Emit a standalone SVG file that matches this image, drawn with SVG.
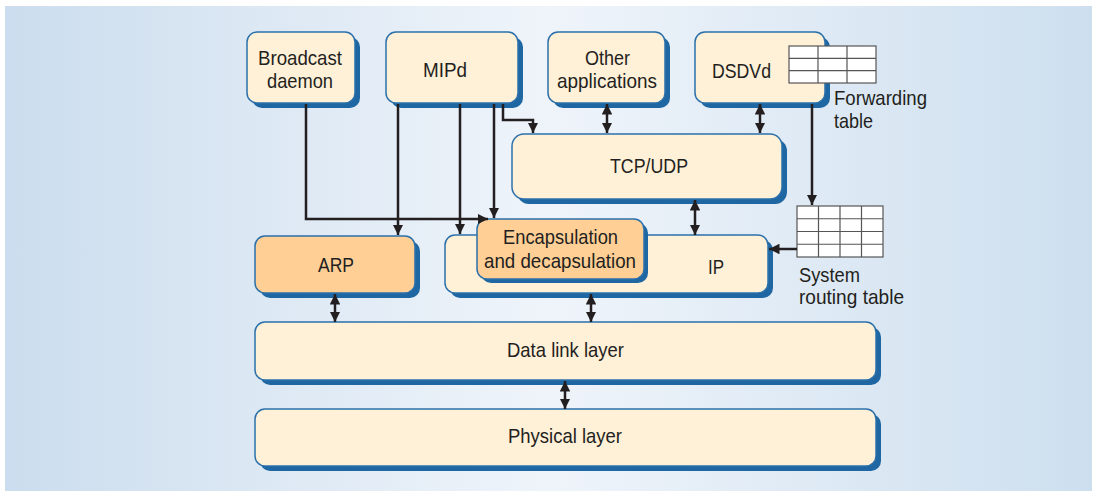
<svg xmlns="http://www.w3.org/2000/svg" width="1097" height="496" viewBox="0 0 1097 496">
<defs>
<linearGradient id="bg" x1="0" y1="0" x2="1" y2="0">
<stop offset="0" stop-color="#cbddee"/>
<stop offset="0.5" stop-color="#eff4fa"/>
<stop offset="1" stop-color="#cddfef"/>
</linearGradient>
<marker id="ah" viewBox="0 0 10 10" refX="10" refY="5" markerWidth="4.2" markerHeight="4.2" orient="auto-start-reverse" markerUnits="strokeWidth">
<path d="M0,0 L10,5 L0,10 z" fill="#231f20"/>
</marker>
<style>
.sh{fill:#1f67a2}
.bx{fill:#fff0d8;stroke:#2b70ab;stroke-width:1.5}
.or{fill:#ffcf96;stroke:#2b70ab;stroke-width:1.5}
.t{font-family:"Liberation Sans",Arial,sans-serif;font-size:21px;fill:#231f20}
.ln{fill:none;stroke:#231f20;stroke-width:2.5}
.ar{marker-end:url(#ah)}
.da{marker-start:url(#ah);marker-end:url(#ah)}
.g{fill:#fff;stroke:#555;stroke-width:1.2}
.gl{stroke:#555;stroke-width:1.2}
</style>
</defs>
<rect x="5" y="6" width="1087" height="485" fill="url(#bg)"/>

<g id="broadcast">
<rect class="sh" x="252" y="37" width="108" height="71" rx="10"/>
<rect class="bx" x="247" y="32" width="108" height="71" rx="10"/>
<text class="t" x="258" y="65" textLength="84" lengthAdjust="spacingAndGlyphs">Broadcast</text>
<text class="t" x="267" y="88" textLength="66" lengthAdjust="spacingAndGlyphs">daemon</text>
</g>
<g id="mipd">
<rect class="sh" x="391" y="37" width="132" height="71" rx="10"/>
<rect class="bx" x="386" y="32" width="132" height="71" rx="10"/>
<text class="t" x="423" y="77" textLength="44" lengthAdjust="spacingAndGlyphs">MIPd</text>
</g>
<g id="otherapps">
<rect class="sh" x="553" y="37" width="117" height="71" rx="10"/>
<rect class="bx" x="548" y="32" width="117" height="71" rx="10"/>
<text class="t" x="585" y="65" textLength="45" lengthAdjust="spacingAndGlyphs">Other</text>
<text class="t" x="557" y="88" textLength="100" lengthAdjust="spacingAndGlyphs">applications</text>
</g>
<g id="dsdvd">
<rect class="sh" x="700" y="37" width="130" height="71" rx="10"/>
<rect class="bx" x="695" y="32" width="130" height="71" rx="10"/>
<text class="t" x="712" y="78" textLength="59" lengthAdjust="spacingAndGlyphs">DSDVd</text>
</g>
<g id="forwarding-table">
<rect class="g" x="789" y="46" width="87" height="37"/>
<path class="gl" d="M789,58.3H876M789,70.6H876M818,46V83M847,46V83"/>
<text class="t" x="834" y="105" textLength="93" lengthAdjust="spacingAndGlyphs">Forwarding</text>
<text class="t" x="834" y="128" textLength="39" lengthAdjust="spacingAndGlyphs">table</text>
</g>
<g id="tcpudp">
<rect class="sh" x="517" y="139" width="270" height="65" rx="12"/>
<rect class="bx" x="512" y="134" width="270" height="65" rx="12"/>
<text class="t" x="610" y="173" textLength="78" lengthAdjust="spacingAndGlyphs">TCP/UDP</text>
</g>
<g id="arp">
<rect class="sh" x="260" y="241" width="160" height="57" rx="10"/>
<rect class="or" x="255" y="236" width="160" height="57" rx="10"/>
<text class="t" x="318" y="272" textLength="36" lengthAdjust="spacingAndGlyphs">ARP</text>
</g>
<g id="ip">
<rect class="sh" x="450" y="240" width="323" height="58" rx="10"/>
<rect class="bx" x="445" y="235" width="323" height="58" rx="10"/>
<text class="t" x="708" y="274" textLength="16" lengthAdjust="spacingAndGlyphs">IP</text>
</g>
<g id="encapsulation">
<rect class="sh" x="481" y="223" width="167" height="60" rx="10"/>
<rect class="or" x="477" y="219" width="167" height="60" rx="10"/>
<text class="t" x="503" y="244" textLength="115" lengthAdjust="spacingAndGlyphs">Encapsulation</text>
<text class="t" x="484" y="268" textLength="152" lengthAdjust="spacingAndGlyphs">and decapsulation</text>
</g>
<g id="routing-table">
<rect class="g" x="797" y="206" width="86" height="51"/>
<path class="gl" d="M797,218.75H883M797,231.5H883M797,244.25H883M818.5,206V257M840,206V257M861.5,206V257"/>
<text class="t" x="799" y="282" textLength="61" lengthAdjust="spacingAndGlyphs">System</text>
<text class="t" x="799" y="304" textLength="105" lengthAdjust="spacingAndGlyphs">routing table</text>
</g>
<g id="datalink">
<rect class="sh" x="260" y="327" width="621" height="58" rx="10"/>
<rect class="bx" x="255" y="322" width="621" height="58" rx="10"/>
<text class="t" x="507" y="357" textLength="117" lengthAdjust="spacingAndGlyphs">Data link layer</text>
</g>
<g id="physical">
<rect class="sh" x="260" y="414" width="621" height="57" rx="10"/>
<rect class="bx" x="255" y="409" width="621" height="57" rx="10"/>
<text class="t" x="508" y="443" textLength="114" lengthAdjust="spacingAndGlyphs">Physical layer</text>
</g>

<g id="connectors">
<path class="ln ar" d="M306,104V219H488"/>
<path class="ln ar" d="M398,104V235"/>
<path class="ln ar" d="M460,104V234"/>
<path class="ln ar" d="M494,104V218"/>
<path class="ln ar" d="M503,104V120H533V133"/>
<path class="ln da" d="M607,104V133"/>
<path class="ln da" d="M760,104V133"/>
<path class="ln ar" d="M812,104V205"/>
<path class="ln da" d="M695,200V235"/>
<path class="ln ar" d="M797,249H769"/>
<path class="ln da" d="M335,294V322"/>
<path class="ln da" d="M591,294V322"/>
<path class="ln da" d="M565,381V409"/>
</g>
</svg>
